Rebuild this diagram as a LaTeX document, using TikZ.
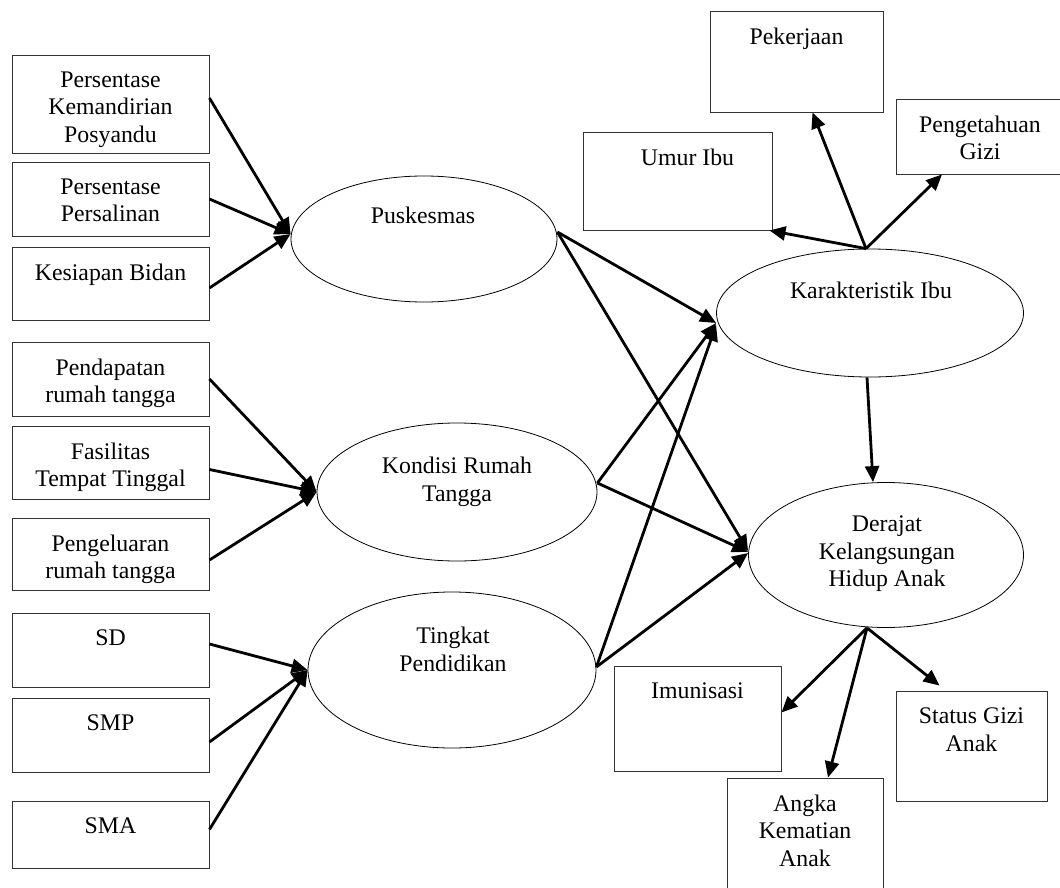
\documentclass[tikz,border=0pt]{standalone}
\usepackage{fontspec}
\setmainfont{Liberation Serif}
\usetikzlibrary{arrows.meta,shapes.geometric}

% \boxat[text x offset]{name}{x1}{y1}{x2}{y2}{text}: framed box with its text near the top
\newcommand\boxat[7][0]{%
  \node[box, minimum width={(#5-#3)*1pt}, minimum height={(#6-#4)*1pt}] (#2) at ({(#3+#5)/2},{(#4+#6)/2}) {};
  \node[lbl] (#2-t) at ([xshift=#1pt,yshift=-17pt]#2.north) {#7};
}

\begin{document}
\begin{tikzpicture}[x=1pt,y=-1pt,
  box/.style={draw=black!80, line width=0.9pt, rectangle, inner sep=0pt},
  oval/.style={draw=black, line width=0.8pt, ellipse, inner sep=0pt},
  lbl/.style={anchor=north, inner sep=0pt, align=center, font=\fontsize{23.8}{27.5}\selectfont},
  arr/.style={line width=2.8pt, -{Triangle[length=16pt,width=14pt]}},
]
\useasboundingbox (0,0) rectangle (1060,888);
\clip (0,0) rectangle (1060,888);

% indicator boxes on the left
\boxat{b1}{12}{55}{209}{153}{Persentase\\Kemandirian\\Posyandu}
\boxat{b2}{12}{162}{209}{236}{Persentase\\Persalinan}
\boxat{b3}{12}{247}{209}{320}{Kesiapan Bidan}
\boxat{b4}{12}{342}{209}{416}{Pendapatan\\rumah tangga}
\boxat{b5}{12}{426}{209}{499}{Fasilitas\\Tempat Tinggal}
\boxat{b6}{12}{518}{209}{590}{Pengeluaran\\rumah tangga}
\boxat{b7}{12}{613}{209}{687}{SD}
\boxat{b8}{12}{698}{209}{772}{SMP}
\boxat{b9}{12}{801}{209}{868}{SMA}

% indicator boxes on the right
\boxat{pek}{710}{11}{883}{112}{Pekerjaan}
\boxat{gizi}{896}{99}{1064}{174}{Pengetahuan\\Gizi}
\boxat[10]{umur}{583}{132}{772}{230}{Umur Ibu}
\boxat{imun}{614}{666}{781}{771}{Imunisasi}
\boxat{angka}{727}{778}{883}{900}{Angka\\Kematian\\Anak}
\boxat{status}{896}{691}{1047}{801}{Status Gizi\\Anak}

% latent variables
\node[oval, minimum width=266pt, minimum height=126pt] (pusk) at (424,239) {};
\node[lbl] (pusk-t) at (423,207) {Puskesmas};
\node[oval, minimum width=280pt, minimum height=138pt] (kond) at (457,492) {};
\node[lbl] (kond-t) at (457,457) {Kondisi Rumah\\Tangga};
\node[oval, minimum width=288pt, minimum height=156pt] (ting) at (452,670) {};
\node[lbl] (ting-t) at (453,627) {Tingkat\\Pendidikan};
\node[oval, minimum width=307pt, minimum height=128pt] (kar) at (870,313) {};
\node[lbl] (kar-t) at (871,282) {Karakteristik Ibu};
\node[oval, minimum width=275pt, minimum height=145pt] (der) at (886,555) {};
\node[lbl] (der-t) at (887,516) {Derajat\\Kelangsungan\\Hidup Anak};

% indicators -> Puskesmas
\draw[arr] ([yshift=6pt]b1.east) -- ([yshift=5pt]pusk.west);
\draw[arr] (b2.east) -- ([yshift=5pt]pusk.west);
\draw[arr] ([yshift=-4.5pt]b3.east) -- ([yshift=5pt]pusk.west);
% indicators -> Kondisi Rumah Tangga
\draw[arr] (b4.east) -- (kond.west);
\draw[arr] ([yshift=-7pt]b5.east) -- (kond.west);
\draw[arr] ([yshift=-6pt]b6.east) -- (kond.west);
% indicators -> Tingkat Pendidikan
\draw[arr] ([yshift=6pt]b7.east) -- (ting.west);
\draw[arr] ([yshift=-7pt]b8.east) -- (ting.west);
\draw[arr] ([yshift=5pt]b9.east) -- (ting.west);

% structural paths
\draw[arr] ([yshift=7pt]pusk.east) -- ([yshift=-10pt]kar.west);
\draw[arr] ([yshift=7pt]pusk.east) -- ([yshift=4pt]der.west);
\draw[arr] ([yshift=9pt]kond.east) -- ([yshift=-10pt]kar.west);
\draw[arr] ([yshift=9pt]kond.east) -- ([yshift=3pt]der.west);
\draw[arr] ([yshift=3pt]ting.east) -- ([yshift=-12pt]kar.west);
\draw[arr] ([yshift=3pt]ting.east) -- ([yshift=2pt]der.west);
\draw[arr] ([xshift=-3pt]kar.south) -- ([xshift=-13pt]der.north);

% Karakteristik Ibu -> its indicators
\draw[arr] ([xshift=-4pt]kar.north) -- ([xshift=16pt]pek.south);
\draw[arr] ([xshift=-4pt]kar.north) -- ([xshift=-38pt]gizi.south);
\draw[arr] ([xshift=-4pt]kar.north) -- ([xshift=-3pt]umur.south east);

% Derajat Kelangsungan Hidup Anak -> its indicators
\draw[arr] ([xshift=-19pt]der.south) -- ([yshift=6pt]imun.east);
\draw[arr] ([xshift=-19pt]der.south) -- ([xshift=23pt]angka.north);
\draw[arr] ([xshift=-19pt]der.south) -- ([xshift=-32pt,yshift=5pt]status.north);
\end{tikzpicture}
\end{document}
